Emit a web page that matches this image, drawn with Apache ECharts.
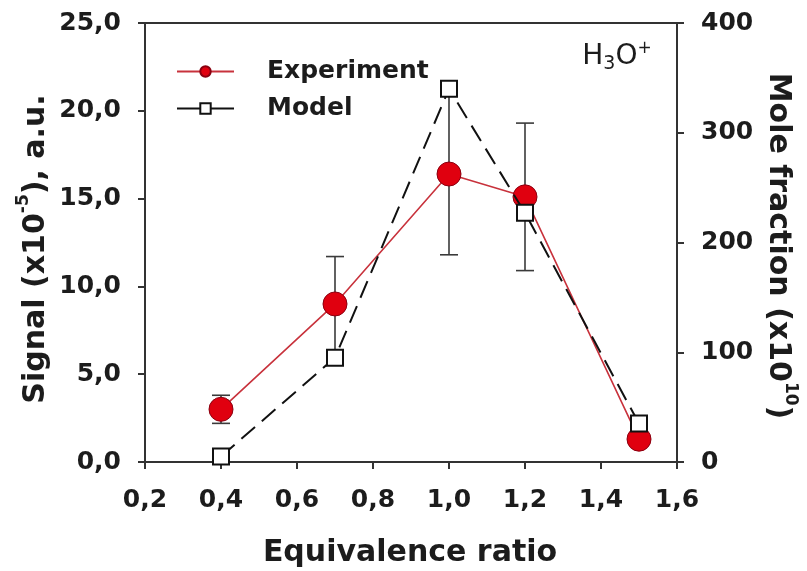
<!DOCTYPE html>
<html>
<head>
<meta charset="utf-8">
<script src="https://cdn.jsdelivr.net/npm/echarts@6/dist/echarts.min.js"></script>
<style>
  html, body { margin: 0; padding: 0; background: #fff; }
  #chart { width: 807px; height: 571px; }
</style>
</head>
<body>
<div id="chart"></div>
<script>
// Equivalence ratio of each flame
const ratio = [0.4, 0.7, 1.0, 1.2, 1.5];
// Measured H3O+ signal (x10^-5, a.u.) and its uncertainty
const experiment = [3.0, 9.0, 16.4, 15.1, 1.3];
const experimentErr = [0.8, 2.7, 4.6, 4.2, 0.3];
// Modelled H3O+ mole fraction (x10^10)
const model = [5, 95, 340, 227, 35];

const FONT = 'DejaVu Sans';
const INK = '#1c1c1c';

const commaFmt = v => v.toFixed(1).replace('.', ',');

const expPoints = ratio.map((x, i) => [x, experiment[i]]);
const modelPoints = ratio.map((x, i) => [x, model[i]]);
const errPoints = ratio.map((x, i) => [x, experiment[i] - experimentErr[i], experiment[i] + experimentErr[i]]);

const chart = echarts.init(document.getElementById('chart'), null, { renderer: 'canvas' });

const axisCommon = {
  axisLine: { show: true, lineStyle: { color: '#333', width: 2 } },
  axisTick: { show: true, inside: false, length: 7, lineStyle: { color: '#333', width: 2 } },
  splitLine: { show: false },
  axisLabel: { color: INK, fontFamily: FONT, fontWeight: 'bold', fontSize: 25 }
};

chart.setOption({
  animation: false,
  backgroundColor: '#fff',
  grid: {
    left: 145, right: 130, top: 23, bottom: 109,
    show: true, borderColor: '#333', borderWidth: 2
  },
  xAxis: {
    type: 'value', min: 0.2, max: 1.6, interval: 0.2,
    ...axisCommon,
    axisLabel: { ...axisCommon.axisLabel, margin: 26, formatter: commaFmt }
  },
  yAxis: [
    {
      type: 'value', min: 0, max: 25, interval: 5, position: 'left',
      ...axisCommon,
      axisLabel: { ...axisCommon.axisLabel, margin: 24, formatter: commaFmt }
    },
    {
      type: 'value', min: 0, max: 400, interval: 100, position: 'right',
      ...axisCommon,
      axisLabel: { ...axisCommon.axisLabel, margin: 24, formatter: v => String(v) }
    }
  ],
  legend: {
    orient: 'vertical',
    left: 171, top: 54,
    itemWidth: 57, itemHeight: 13, itemGap: 12,
    textStyle: {
      color: INK, fontFamily: FONT, fontWeight: 'bold', fontSize: 25,
      rich: { t: { color: INK, fontFamily: FONT, fontWeight: 'bold', fontSize: 25, padding: [0, 0, 0, 28] } }
    },
    formatter: name => '{t|' + name + '}',
    lineStyle: { type: 'solid' },
    data: ['Experiment', 'Model']
  },
  series: [
    {
      name: 'Error',
      type: 'custom',
      xAxisIndex: 0, yAxisIndex: 0,
      z: 1,
      encode: { x: 0, y: [1, 2] },
      data: errPoints,
      renderItem: (params, api) => {
        const x = api.value(0);
        const lo = api.coord([x, api.value(1)]);
        const hi = api.coord([x, api.value(2)]);
        const hw = 9;
        const style = { stroke: '#3a3a3a', lineWidth: 1.6 };
        return {
          type: 'group',
          children: [
            { type: 'line', shape: { x1: lo[0], y1: lo[1], x2: hi[0], y2: hi[1] }, style },
            { type: 'line', shape: { x1: lo[0] - hw, y1: lo[1], x2: lo[0] + hw, y2: lo[1] }, style },
            { type: 'line', shape: { x1: hi[0] - hw, y1: hi[1], x2: hi[0] + hw, y2: hi[1] }, style }
          ]
        };
      }
    },
    {
      name: 'Experiment',
      type: 'line',
      xAxisIndex: 0, yAxisIndex: 0,
      z: 3,
      data: expPoints,
      symbol: 'circle',
      symbolSize: 24,
      lineStyle: { color: '#c8323c', width: 1.6 },
      itemStyle: { color: '#e0000f', borderColor: '#8a0010', borderWidth: 1 }
    },
    {
      name: 'Model',
      type: 'line',
      xAxisIndex: 0, yAxisIndex: 1,
      z: 4,
      data: modelPoints,
      symbol: 'rect',
      symbolSize: 16,
      lineStyle: { color: '#111', width: 2, type: [18, 9] },
      itemStyle: { color: '#fff', borderColor: '#111', borderWidth: 2 }
    }
  ],
  graphic: [
    {
      type: 'text', x: 410, y: 553,
      style: {
        text: 'Equivalence ratio', fill: INK,
        font: 'bold 30px "' + FONT + '"', align: 'center', verticalAlign: 'middle'
      }
    },
    {
      type: 'text', x: 33, y: 249, rotation: Math.PI / 2,
      style: {
        text: '{m|Signal (x10}{s|-5}{m|), a.u.}',
        align: 'center', verticalAlign: 'middle',
        rich: {
          m: { fill: INK, fontFamily: FONT, fontWeight: 'bold', fontSize: 30, lineHeight: 36, verticalAlign: 'bottom' },
          s: { fill: INK, fontFamily: FONT, fontWeight: 'bold', fontSize: 17, lineHeight: 36, verticalAlign: 'top' }
        }
      }
    },
    {
      type: 'text', x: 781, y: 246, rotation: -Math.PI / 2,
      style: {
        text: '{m|Mole fraction (x10}{s|10}{m|)}',
        align: 'center', verticalAlign: 'middle',
        rich: {
          m: { fill: INK, fontFamily: FONT, fontWeight: 'bold', fontSize: 30, lineHeight: 36, verticalAlign: 'bottom' },
          s: { fill: INK, fontFamily: FONT, fontWeight: 'bold', fontSize: 17, lineHeight: 36, verticalAlign: 'top' }
        }
      }
    },
    {
      type: 'text', x: 617, y: 57,
      style: {
        text: '{m|H}{b|3}{m|O}{p|+}',
        align: 'center', verticalAlign: 'middle',
        rich: {
          m: { fill: INK, fontFamily: FONT, fontSize: 28, lineHeight: 34, verticalAlign: 'middle' },
          b: { fill: INK, fontFamily: FONT, fontSize: 19, lineHeight: 34, verticalAlign: 'bottom' },
          p: { fill: INK, fontFamily: FONT, fontSize: 17, lineHeight: 34, verticalAlign: 'top' }
        }
      }
    }
  ]
});
</script>
</body>
</html>
